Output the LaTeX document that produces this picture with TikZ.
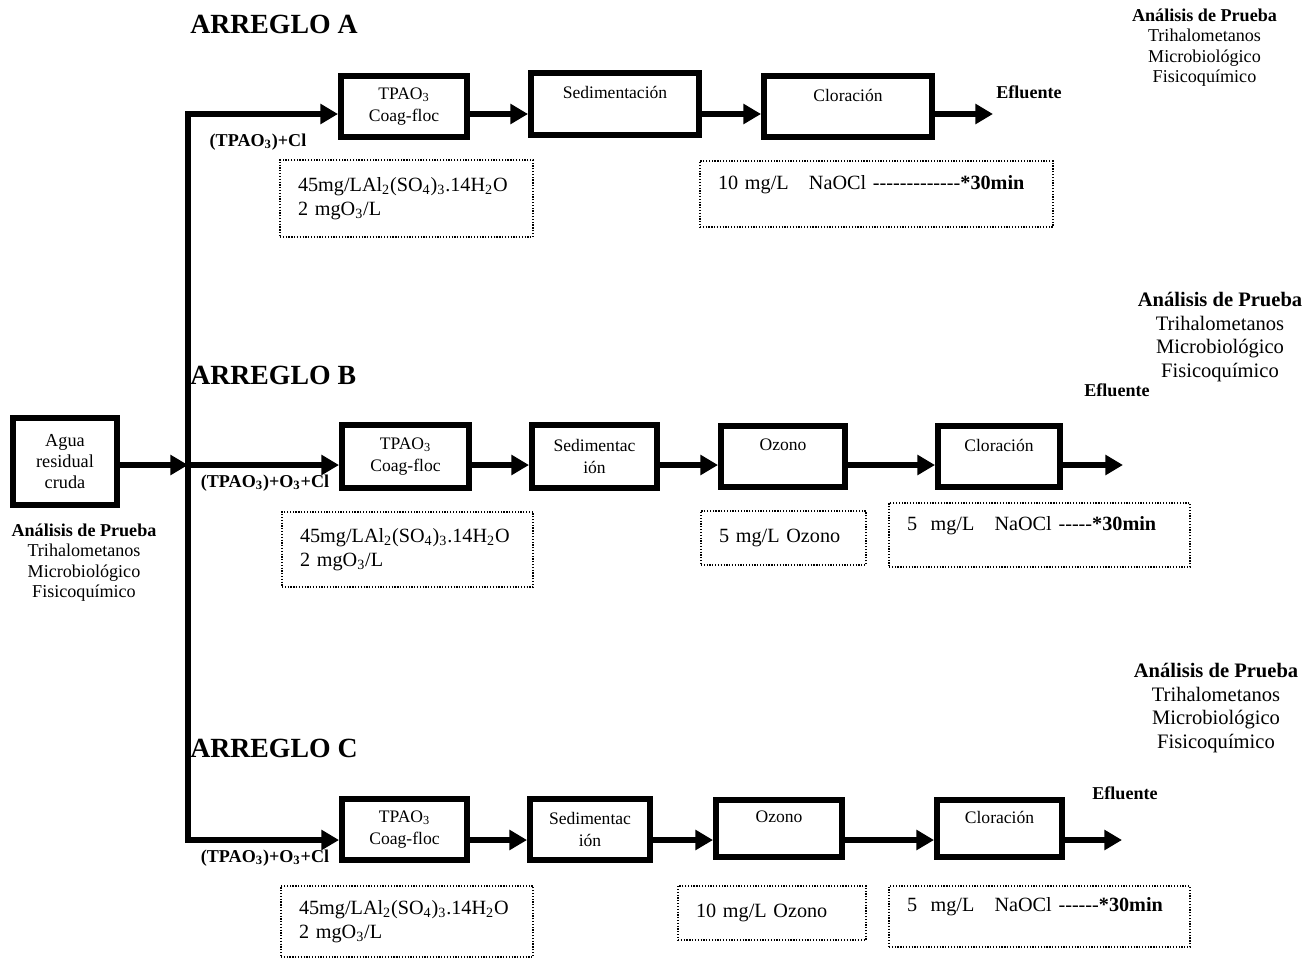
\documentclass[tikz,border=0pt]{standalone}
\usepackage{fontspec}
\setmainfont{Liberation Serif}[Ligatures=TeXOff]
\usetikzlibrary{arrows.meta}

\begin{document}
\begin{tikzpicture}[x=0.02cm, y=-0.02cm]
	\tikzstyle{proc}  = [rectangle, draw=black, line width=3.4pt, align=center, inner sep=0pt, font=\fontsize{10}{13}\selectfont]
	\tikzstyle{dose}  = [rectangle, draw=black, dash pattern=on 0.7pt off 0.9pt, line width=0.7pt, align=left, inner xsep=0.36cm, inner ysep=0pt, font=\fontsize{11.5}{13.6}\selectfont]
	\tikzstyle{flow}  = [line width=3pt, -{Triangle[length=10pt, width=11pt]}]
	\tikzstyle{tag}   = [inner sep=0pt, font=\bfseries\fontsize{10.3}{12}\selectfont]
	\tikzstyle{title} = [anchor=west, inner sep=0pt, font=\bfseries\fontsize{15.8}{18}\selectfont]
	\tikzstyle{tests} = [align=center, inner sep=0pt, font=\fontsize{10.3}{11.6}\selectfont]

	\useasboundingbox (0,0) rectangle (1315,960);

	% entrada
	\node[proc, minimum width=2.08cm, minimum height=1.74cm, font=\fontsize{10.4}{12}\selectfont] (agua) at (65,461.5) {Agua\\residual\\cruda};
	\node[tests] (testsIn) at (84,562.5) {\textbf{Análisis de Prueba}\\Trihalometanos\\Microbiológico\\Fisicoquímico};

	% arreglo A
	\node[title] (titleA) at (190,24) {ARREGLO A};
	\node[proc, minimum width=2.52cm, minimum height=1.22cm] (tpaoA) at (404,106.5) {TPAO\textsubscript{3}\\Coag-floc};
	\node[proc, minimum width=3.36cm, minimum height=1.24cm] (sedA) at (615,104) {Sedimentación\\\mbox{}};
	\node[proc, minimum width=3.36cm, minimum height=1.22cm] (clorA) at (848,106.5) {Cloración\\\mbox{}};
	\node[tag] (tagA) at (258,142) {(TPAO\textsubscript{3})+Cl};
	\node[tag] (efA) at (1029,92) {Efluente};
	\node[dose, text width=4.34cm, minimum height=1.54cm] (doseA1) at (406.5,198.5) {45mg/LAl\textsubscript{2}(SO\textsubscript{4})\textsubscript{3}.14H\textsubscript{2}O\\2 mgO\textsubscript{3}/L};
	\node[dose, text width=6.34cm, minimum height=1.32cm] (doseA2) at (876.5,194) {10 mg/L~~~NaOCl -------------\textbf{*30min}\\\mbox{}};
	\node[tests] (testsA) at (1204.5,47.5) {\textbf{Análisis de Prueba}\\Trihalometanos\\Microbiológico\\Fisicoquímico};

	% arreglo B
	\node[title] (titleB) at (190,375) {ARREGLO B};
	\node[proc, minimum width=2.54cm, minimum height=1.26cm] (tpaoB) at (405.5,456.5) {TPAO\textsubscript{3}\\Coag-floc};
	\node[proc, minimum width=2.5cm, minimum height=1.26cm] (sedB) at (594.5,456.5) {Sedimentac\\ión};
	\node[proc, minimum width=2.48cm, minimum height=1.22cm] (ozB) at (783,456.5) {Ozono\\\mbox{}};
	\node[proc, minimum width=2.44cm, minimum height=1.22cm] (clorB) at (999,456.5) {Cloración\\\mbox{}};
	\node[tag] (tagB) at (265,483) {(TPAO\textsubscript{3})+O\textsubscript{3}+Cl};
	\node[tag] (efB) at (1117,390) {Efluente};
	\node[dose, text width=4.3cm, minimum height=1.5cm] (doseB1) at (407.5,549.5) {45mg/LAl\textsubscript{2}(SO\textsubscript{4})\textsubscript{3}.14H\textsubscript{2}O\\2 mgO\textsubscript{3}/L};
	\node[dose, text width=2.58cm, minimum height=1.08cm] (doseB2) at (783.5,538) {5 mg/L Ozono};
	\node[dose, text width=5.3cm, minimum height=1.28cm] (doseB3) at (1039.5,535) {5~~mg/L~~~NaOCl -----\textbf{*30min}\\\mbox{}};
	\node[tests, font=\fontsize{11.7}{13.3}\selectfont] (testsB) at (1220,337) {\textbf{Análisis de Prueba}\\Trihalometanos\\Microbiológico\\Fisicoquímico};

	% arreglo C
	\node[title] (titleC) at (190,748) {ARREGLO C};
	\node[proc, minimum width=2.5cm, minimum height=1.22cm] (tpaoC) at (404.5,829.5) {TPAO\textsubscript{3}\\Coag-floc};
	\node[proc, minimum width=2.4cm, minimum height=1.22cm] (sedC) at (590,829.5) {Sedimentac\\ión};
	\node[proc, minimum width=2.52cm, minimum height=1.14cm] (ozC) at (779,828.5) {Ozono\\\mbox{}};
	\node[proc, minimum width=2.5cm, minimum height=1.14cm] (clorC) at (999.5,828.5) {Cloración\\\mbox{}};
	\node[tag] (tagC) at (265,858) {(TPAO\textsubscript{3})+O\textsubscript{3}+Cl};
	\node[tag] (efC) at (1125,793) {Efluente};
	\node[dose, text width=4.32cm, minimum height=1.42cm] (doseC1) at (407,921.5) {45mg/LAl\textsubscript{2}(SO\textsubscript{4})\textsubscript{3}.14H\textsubscript{2}O\\2 mgO\textsubscript{3}/L};
	\node[dose, text width=3.04cm, minimum height=1.08cm] (doseC2) at (772,913) {10 mg/L Ozono};
	\node[dose, text width=5.3cm, minimum height=1.22cm] (doseC3) at (1039.5,916.5) {5~~mg/L~~~NaOCl ------\textbf{*30min}\\\mbox{}};
	\node[tests, font=\fontsize{11.7}{13.3}\selectfont] (testsC) at (1216,708) {\textbf{Análisis de Prueba}\\Trihalometanos\\Microbiológico\\Fisicoquímico};

	% lineas de flujo
	\coordinate (split) at (188,465);
	\coordinate (forkA) at (188,114);
	\coordinate (forkC) at (188,840);
	\coordinate (outA) at (993,114);
	\coordinate (outB) at (1123,465);
	\coordinate (outC) at (1122,840);

	\draw[flow] (agua.east |- split) -- (split);
	\draw[flow] (split) -- (forkA) -- (tpaoA.west |- forkA);
	\draw[flow] (split) -- (forkC) -- (tpaoC.west |- forkC);
	\draw[flow] (split) -- (tpaoB.west |- split);

	\foreach \from/\to in {tpaoA/sedA, sedA/clorA}
		\draw[flow] (\from.east |- forkA) -- (\to.west |- forkA);
	\foreach \from/\to in {tpaoB/sedB, sedB/ozB, ozB/clorB}
		\draw[flow] (\from.east |- split) -- (\to.west |- split);
	\foreach \from/\to in {tpaoC/sedC, sedC/ozC, ozC/clorC}
		\draw[flow] (\from.east |- forkC) -- (\to.west |- forkC);

	\draw[flow] (clorA.east |- outA) -- (outA);
	\draw[flow] (clorB.east |- outB) -- (outB);
	\draw[flow] (clorC.east |- outC) -- (outC);
\end{tikzpicture}
\end{document}
